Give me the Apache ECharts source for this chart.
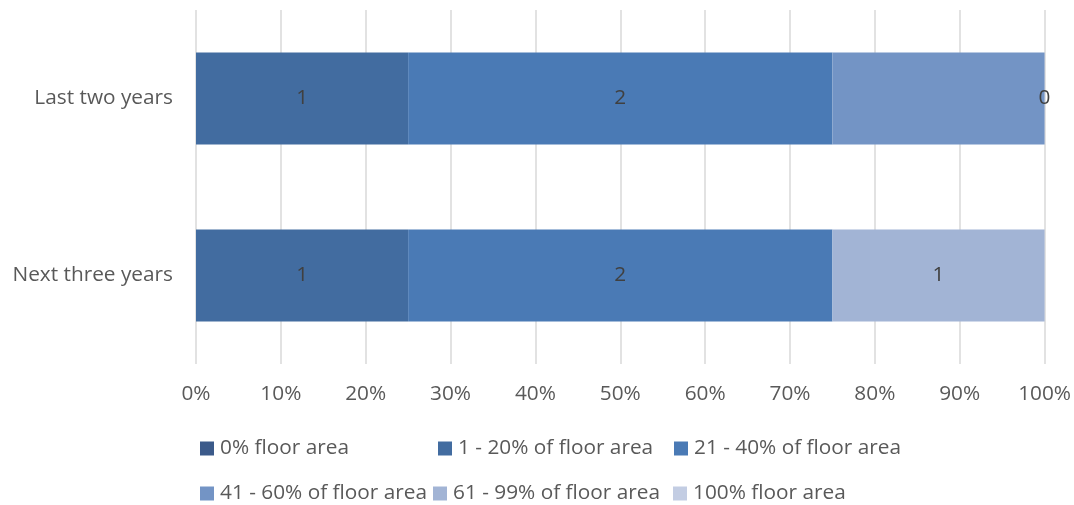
<!DOCTYPE html>
<html>
<head>
<meta charset="utf-8">
<script src="https://cdn.jsdelivr.net/npm/echarts@6/dist/echarts.min.js"></script>
<style>html,body{margin:0;padding:0;background:#fff}#c{width:1074px;height:505px}</style>
</head>
<body>
<div id="c"></div>
<script>
const categories = ['Last two years', 'Next three years'];
const seriesNames = ['0% floor area', '1 - 20% of floor area', '21 - 40% of floor area', '41 - 60% of floor area', '61 - 99% of floor area', '100% floor area'];
const s0 = [null, null];
const s1 = [1, 1];
const s2 = [2, 2];
const s3 = [1, null];
const s4 = [0, 1];
const s5 = [null, null];
const seriesValues = [s0, s1, s2, s3, s4, s5];
// labels not displayed in the reference: [seriesIndex, categoryIndex]
const hiddenLabels = [[3, 0]];
const tickValues = [0, 10, 20, 30, 40, 50, 60, 70, 80, 90, 100];
const colors = ['#3b5a8a', '#426ca0', '#4a7ab5', '#7394c5', '#a2b4d5', '#c3cde3'];

const totals = categories.map((c, j) => seriesValues.reduce((a, s) => a + (s[j] || 0), 0));
const font = '"Open Sans", sans-serif';
const fs = 20.8;

const series = seriesNames.map((name, i) => ({
  name: name,
  type: 'bar',
  stack: 'all',
  barWidth: '52%',
  itemStyle: { color: colors[i] },
  label: {
    show: true, position: 'inside', color: '#404040', fontSize: fs, fontFamily: font,
    formatter: p => String(p.data.raw)
  },
  data: seriesValues[i].map((v, j) => {
    if (v === null) return { value: null, raw: null, label: { show: false } };
    const hide = hiddenLabels.some(h => h[0] === i && h[1] === j);
    const item = { value: v / totals[j] * 100, raw: v };
    if (hide) item.label = { show: false };
    return item;
  })
}));

const legendPos = [[200, 438], [438, 438], [674, 438], [200, 483], [433, 483], [673, 483]];
const legends = seriesNames.map((name, i) => ({
  data: [name], left: legendPos[i][0], top: legendPos[i][1],
  itemWidth: 14, itemHeight: 14, icon: 'rect', itemGap: 0, padding: 0,
  textStyle: { color: '#595959', fontSize: fs, fontFamily: font, padding: [0, 0, 0, 1] },
  selectedMode: false
}));

const chart = echarts.init(document.getElementById('c'), null, { renderer: 'canvas' });
chart.setOption({
  animation: false,
  backgroundColor: '#fff',
  grid: { left: 196, right: 28, top: 10, bottom: 141, containLabel: false },
  legend: legends,
  xAxis: {
    type: 'value', min: 0, max: 100, interval: 10,
    axisLine: { show: false }, axisTick: { show: false },
    splitLine: { show: true, lineStyle: { color: '#d9d9d9', width: 1.5 } },
    axisLabel: { formatter: '{value}%', color: '#595959', fontSize: fs, fontFamily: font, margin: 20 }
  },
  yAxis: {
    type: 'category', data: categories, inverse: true,
    axisLine: { show: false }, axisTick: { show: false },
    axisLabel: { color: '#595959', fontSize: fs, fontFamily: font, margin: 23 }
  },
  series: series
});
</script>
</body>
</html>
